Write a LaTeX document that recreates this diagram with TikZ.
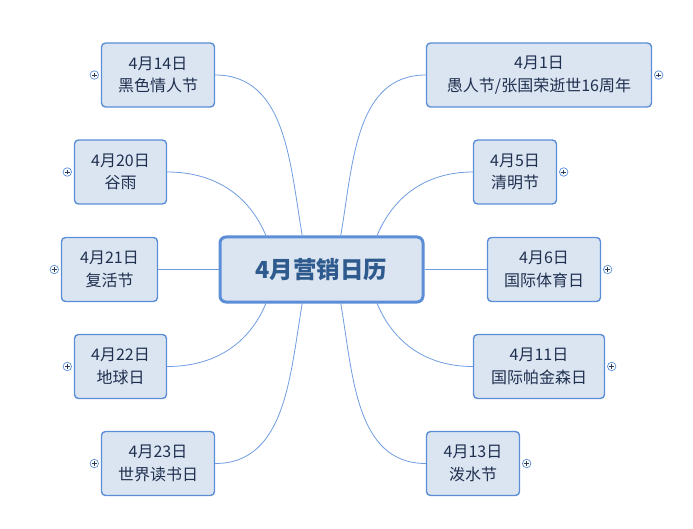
\documentclass[tikz,border=0pt]{standalone}
\usepackage{fontspec}
\setmainfont{Noto Sans CJK SC}
\newfontfamily\cjk{Noto Sans CJK SC}
\definecolor{nodefill}{HTML}{DBE5F1}
\definecolor{nodeborder}{HTML}{5B8ED6}
\definecolor{linkcol}{HTML}{6F9DE0}
\definecolor{txtcol}{HTML}{1F2F4F}
\definecolor{maintxt}{HTML}{2E5A8E}
\definecolor{pluscol}{HTML}{5B8ED6}
\definecolor{plusmark}{HTML}{2B3A55}
\tikzset{
  child/.style={draw=nodeborder, line width=1.4pt, fill=nodefill, rounded corners=4pt,
    minimum height=64pt, align=center, text=txtcol, font=\cjk\fontsize{16}{22.5}\selectfont, inner sep=0pt},
  root/.style={draw=nodeborder, line width=3pt, fill=nodefill, rounded corners=6pt,
    minimum width=203pt, minimum height=65pt, text=maintxt, font=\cjk\bfseries\fontsize{23.5}{28}\selectfont},
  link/.style={draw=linkcol, line width=0.8pt},
  plusicon/.style={circle, draw=pluscol, line width=0.7pt, fill=white, minimum size=8.5pt, inner sep=0pt,
    path picture={\draw[plusmark, line width=0.7pt] ([xshift=-2.3pt]path picture bounding box.center) -- ([xshift=2.3pt]path picture bounding box.center)
      ([yshift=-2.3pt]path picture bounding box.center) -- ([yshift=2.3pt]path picture bounding box.center);}}
}
\begin{document}
\begin{tikzpicture}[x=1pt,y=-1pt]
\useasboundingbox (0,0) rectangle (693,529);

\node[child, minimum width=113pt] (l1) at (158,75) {4月14日\\黑色情人节};
\node[child, minimum width=92pt] (l2) at (120.5,172) {4月20日\\谷雨};
\node[child, minimum width=96pt] (l3) at (109.5,269.5) {4月21日\\复活节};
\node[child, minimum width=92pt] (l4) at (120.5,366.5) {4月22日\\地球日};
\node[child, minimum width=113pt] (l5) at (158,463.5) {4月23日\\世界读书日};

\node[child, minimum width=225pt] (r1) at (539,75) {4月1日\\愚人节/张国荣逝世16周年};
\node[child, minimum width=83pt] (r2) at (515,172) {4月5日\\清明节};
\node[child, minimum width=113pt] (r3) at (544,269.5) {4月6日\\国际体育日};
\node[child, minimum width=131pt] (r4) at (539,366.5) {4月11日\\国际帕金森日};
\node[child, minimum width=93pt] (r5) at (473,463.5) {4月13日\\泼水节};

\node[root] (c) at (321.5,269.5) {4月营销日历};

\node[plusicon] (pl1) at ([xshift=-6.5pt]l1.west) {};
\node[plusicon] (pl2) at ([xshift=-6.5pt]l2.west) {};
\node[plusicon] (pl3) at ([xshift=-6.5pt]l3.west) {};
\node[plusicon] (pl4) at ([xshift=-6.5pt]l4.west) {};
\node[plusicon] (pl5) at ([xshift=-6.5pt]l5.west) {};
\node[plusicon] (pr1) at ([xshift=6.5pt]r1.east) {};
\node[plusicon] (pr2) at ([xshift=6.5pt]r2.east) {};
\node[plusicon] (pr3) at ([xshift=6.5pt]r3.east) {};
\node[plusicon] (pr4) at ([xshift=6.5pt]r4.east) {};
\node[plusicon] (pr5) at ([xshift=6.5pt]r5.east) {};

\path[link] ([xshift=-19pt,yshift=-1.5pt]c.north) to[out=100,in=0] (l1.east);
\path[link] ([xshift=-55pt,yshift=-1.5pt]c.north) to[out=112,in=0] (l2.east);
\path[link] (c.west) -- (l3.east);
\path[link] ([xshift=-55pt,yshift=1.5pt]c.south) to[out=-112,in=0] (l4.east);
\path[link] ([xshift=-19pt,yshift=1.5pt]c.south) to[out=-100,in=0] (l5.east);

\path[link] ([xshift=19pt,yshift=-1.5pt]c.north) to[out=80,in=180] (r1.west);
\path[link] ([xshift=55pt,yshift=-1.5pt]c.north) to[out=68,in=180] (r2.west);
\path[link] (c.east) -- (r3.west);
\path[link] ([xshift=55pt,yshift=1.5pt]c.south) to[out=-68,in=180] (r4.west);
\path[link] ([xshift=19pt,yshift=1.5pt]c.south) to[out=-80,in=180] (r5.west);
\end{tikzpicture}
\end{document}
